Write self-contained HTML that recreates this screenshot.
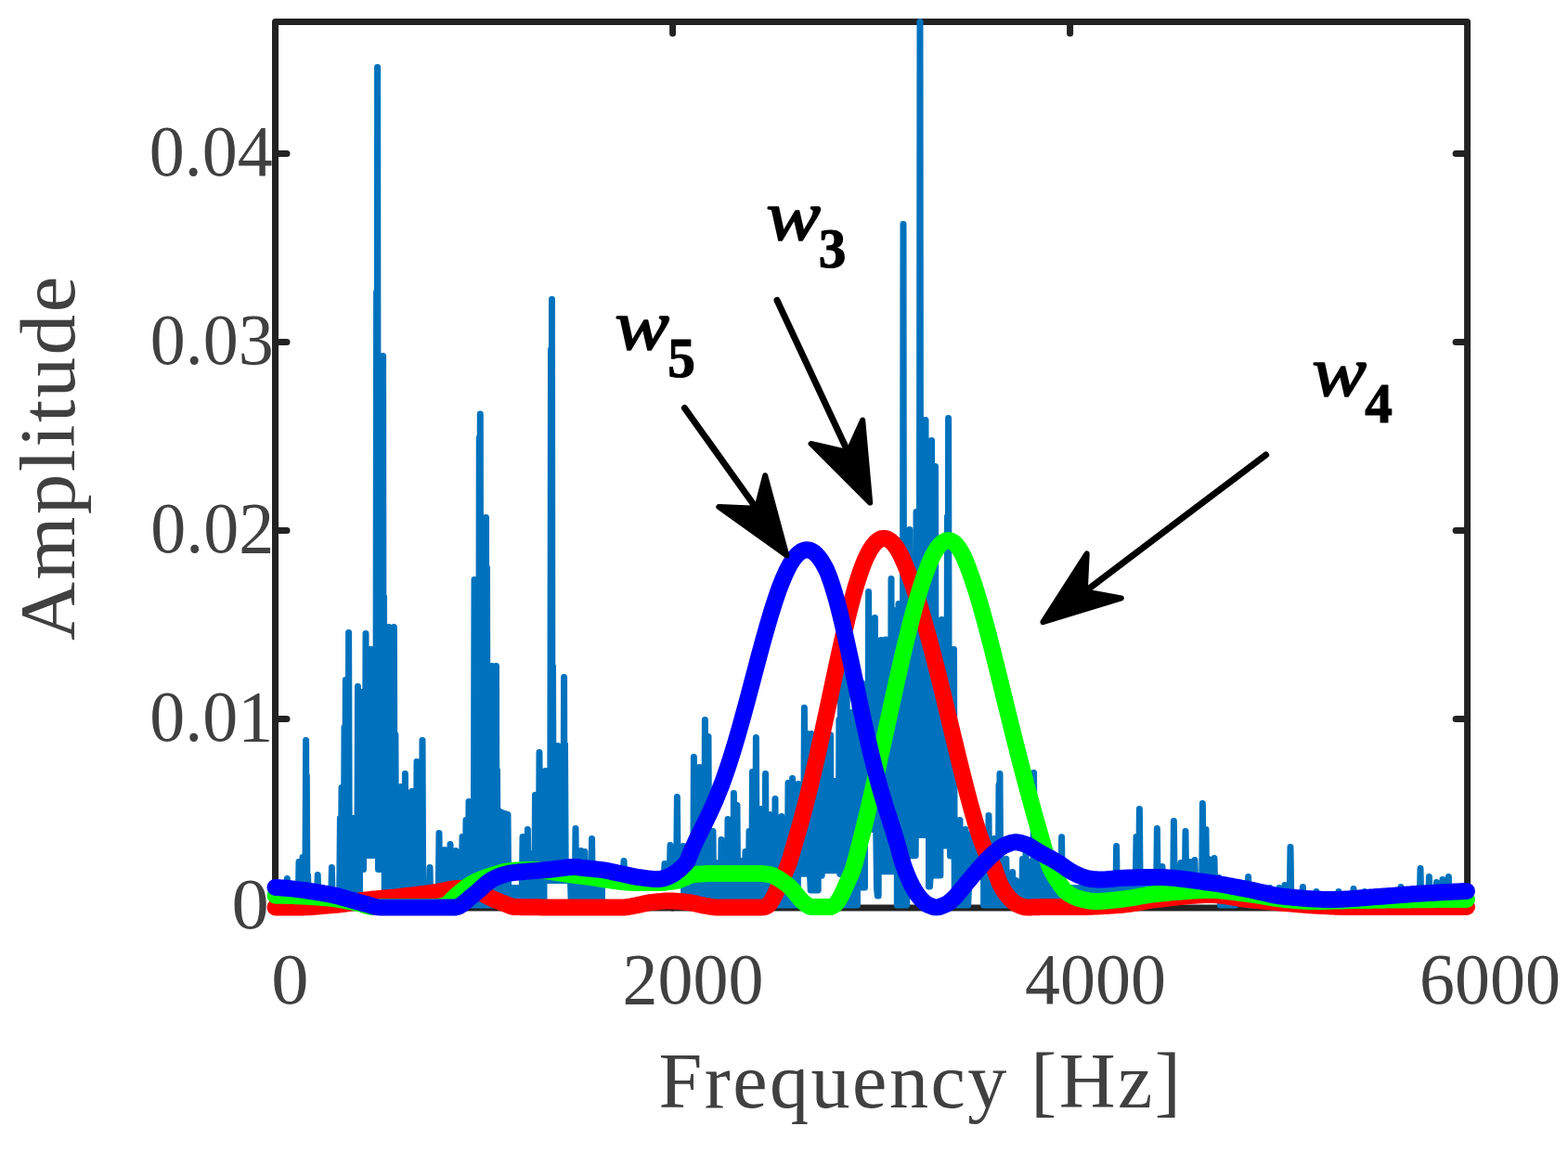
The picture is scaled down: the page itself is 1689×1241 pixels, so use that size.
<!DOCTYPE html>
<html lang="en"><head><meta charset="utf-8"><title>Frequency spectrum</title>
<style>html,body{margin:0;padding:0;background:#fff;}body{width:1689px;height:1241px;overflow:hidden;}svg{display:block;}text{white-space:pre;}</style></head><body>
<svg width="1689" height="1241" viewBox="0 0 1689 1241">
<rect width="1689" height="1241" fill="#fff"/>
<g stroke="#222222" stroke-width="7" fill="none" stroke-linecap="round" stroke-linejoin="round">
<rect x="296.5" y="23.5" width="1284.1" height="954.5"/>
<path d="M296.5,165.4 h12.5 M1580.6,165.4 h-12.5"/>
<path d="M296.5,368.4 h12.5 M1580.6,368.4 h-12.5"/>
<path d="M296.5,571.4 h12.5 M1580.6,571.4 h-12.5"/>
<path d="M296.5,774.4 h12.5 M1580.6,774.4 h-12.5"/>
<path d="M724.6,23.5 v12.5 M724.6,978 v-12.5"/>
<path d="M1152.6,23.5 v12.5 M1152.6,978 v-12.5"/>
</g>
<path d="M296.5,975 L298.7,975 L299.5,959.7 L300.3,975 L301.7,975 L302.5,959.9 L303.3,975 L304.7,975 L305.5,960.1 L306.3,975 L308.6,975 L309.4,946.5 L310.2,975 L310.7,975 L311.5,960.6 L312.3,975 L313.7,975 L314.5,960.9 L315.3,975 L316.7,975 L317.5,961.3 L318.3,975 L319.7,975 L320.5,961.6 L321.2,975 L322,928.5 L322.8,975 L323.5,962 L324.3,975 L325.2,975 L326,923.5 L326.8,975 L328.8,975 L329.6,797.5 L330,975 L330.3,835.5 L331,975 L331.6,942.5 L332.4,975 L334.7,975 L335.5,963.7 L336.3,975 L337.7,975 L338.5,964.2 L339.3,975 L341.4,975 L342.2,942.5 L343,975 L343.7,975 L344.5,965.1 L345.3,975 L346.7,975 L347.5,965.6 L348.3,975 L349.7,975 L350.5,966.1 L351.3,975 L352.7,975 L353.5,966.6 L354.3,975 L356.6,975 L357.4,934.5 L358.2,975 L358.7,975 L359.5,967.9 L360.3,975 L361.7,975 L362.5,968.6 L363.3,975 L365.6,975 L366.4,881.5 L367.2,975 L368,848.5 L368.8,975 L370.2,975 L371,783.5 L371.6,975 L372.3,732.5 L373.1,975 L374.8,975 L375.6,681.5 L376.4,975 L376.7,975 L377.5,972.7 L378.3,975 L379.8,975 L380.6,881.5 L381.4,975 L382.7,975 L383.5,974.5 L384.3,975 L384.7,975 L385.5,739.5 L386.3,975 L387.5,975 L387.5,936.5 L389,936.5 L389.8,745.5 L390.6,936.5 L391.5,936.5 L391.5,921.5 L391.7,921.5 L392.5,921.5 L393.2,921.5 L394,682.5 L394.8,921.5 L395.5,921.5 L396.3,921.5 L398.5,921.5 L398.5,921.5 L398.8,921.5 L399.6,699.5 L400.4,921.5 L400.5,921.5 L400.5,921.5 L400.7,921.5 L401.5,921.5 L402.3,921.5 L404.8,921.5 L405.6,314.5 L406.1,921.5 L406.6,72.5 L407.4,921.5 L407.5,921.5 L407.5,936.5 L409.7,936.5 L410.5,936.5 L411.3,936.5 L411.8,936.5 L412.6,383.5 L413.1,936.5 L413.5,642.5 L414.3,975 L415.7,975 L416.5,970.8 L417.3,975 L418.2,975 L419,675.5 L419.8,975 L421.7,975 L422.5,970.3 L423.3,975 L423.6,975 L424.4,675.5 L425.1,975 L425.9,791.5 L426.7,975 L427.7,975 L428.5,969.7 L429.3,975 L431.2,975 L432,847.5 L432.8,975 L433.7,975 L434.5,969 L435.3,975 L435.6,975 L436.4,833.5 L437.2,975 L439.2,975 L440,854.5 L440.8,975 L442.8,975 L443.6,852.5 L444.4,975 L445.7,975 L446.5,967.6 L447.3,975 L448.2,975 L449,820.5 L449.8,975 L451.7,975 L452.5,966.8 L453.3,975 L454.2,975 L455,797.5 L455.8,975 L457.7,975 L458.5,966.1 L459.3,975 L460.7,975 L461.5,965.7 L462.2,975 L463,934.5 L463.8,975 L464.5,965.3 L465.3,975 L466.7,975 L467.5,964.9 L468.3,975 L469.7,975 L470.5,964.4 L471.3,975 L472.2,975 L473,897.5 L473.8,975 L475.7,975 L476.5,963.3 L477.3,975 L478.2,975 L479,915.5 L479.8,975 L481.7,975 L482.5,962.1 L483.3,975 L484.2,975 L485,909.5 L485.8,975 L487.7,975 L488.5,961 L489.3,975 L490.2,975 L491,916.5 L491.8,975 L493.7,975 L494.5,960.5 L495.3,975 L497.2,975 L498,901.5 L498.8,975 L499.7,975 L500.5,960.8 L501.2,975 L502,883.5 L502.8,975 L503.5,958.6 L504.2,975 L505,863.5 L505.8,975 L506.5,956.5 L507.3,975 L508.7,975 L509.5,956.5 L510.2,975 L511,624.5 L511.8,975 L512.5,956.5 L513.3,975 L515.5,975 L516.3,471.5 L516.8,975 L517.3,446.1 L517.9,975 L518.5,956.5 L519.3,975 L520.7,975 L521.5,956.5 L522.3,975 L522.7,975 L523.5,557.5 L524,975 L524.5,611.5 L525.3,975 L526.7,975 L527.5,956.5 L528.3,975 L529.2,975 L530,717.5 L530.8,975 L533.7,975 L534.5,717.5 L535,975 L535.5,829.5 L536.3,975 L536.7,975 L537.5,873.5 L538.3,975 L538.7,975 L539.5,956.5 L540.2,975 L541,875.5 L541.8,975 L542.5,956.5 L543.2,975 L544,876.5 L544.8,975 L545.5,956.5 L546.2,975 L547,877.5 L547.8,975 L548.5,956.5 L549.3,975 L550.7,975 L551.5,956.5 L552.3,975 L553.7,975 L554.5,956.5 L555.3,975 L556.7,975 L557.5,956.5 L558.3,975 L559.7,975 L560.5,956.5 L561.3,975 L562.2,975 L563,901.5 L563.8,975 L565.7,975 L566.5,956.5 L567.3,975 L567.6,975 L568.4,893.5 L569.2,975 L572.2,975 L573,919.5 L573.8,975 L575.7,975 L576.5,856.5 L577.3,975 L577.7,975 L578.5,956.5 L579.3,975 L580.2,975 L581,810.5 L581.8,975 L583.7,975 L584.5,956.5 L585.3,975 L586,975 L586,948.5 L586.7,948.5 L587.5,830.5 L588.3,948.5 L589.7,948.5 L590.5,948.5 L591.3,948.5 L592.7,948.5 L593.5,376.5 L594,948.5 L594.5,322.5 L595,948.5 L595.5,717.5 L596.3,948.5 L598.5,948.5 L598.5,948.5 L598.7,948.5 L599.5,948.5 L600.2,948.5 L601,803.5 L601.8,948.5 L602.5,948.5 L603.3,948.5 L604.7,948.5 L605.5,948.5 L606.3,948.5 L606.8,948.5 L607.6,729.5 L608,948.5 L608.5,801.5 L609.3,948.5 L610.7,948.5 L611.5,948.5 L612.3,948.5 L613.7,948.5 L614.5,948.5 L615.3,975 L616.7,975 L617.5,956.5 L618.3,975 L619.2,975 L620,892.5 L620.8,975 L622.7,975 L623.5,956.5 L624.3,975 L625.2,975 L626,916.5 L626.8,975 L629.2,975 L630,917.5 L630.8,975 L631.7,975 L632.5,956.5 L633.3,975 L634.7,975 L635.5,956.5 L636.3,975 L636.8,975 L637.6,903.5 L638.4,975 L640.7,975 L641.5,956.5 L642.3,975 L643.7,975 L644.5,956.5 L645.3,975 L646.7,975 L647.5,956.5 L648.3,975 L648.5,975 L648.5,946.5 L649.7,946.5 L650.5,946.5 L651.3,946.5 L652.7,946.5 L653.5,946.5 L654.3,946.5 L655.7,946.5 L656.5,946.5 L657.3,946.5 L658.7,946.5 L659.5,946.5 L660.3,946.5 L661.7,946.5 L662.5,946.5 L663.3,946.5 L664.7,946.5 L665.5,946.5 L666.3,946.5 L667.7,946.5 L668.5,946.5 L669.3,946.5 L670.5,946.5 L670.5,946.5 L671.2,946.5 L672,927.5 L672.8,946.5 L673.7,946.5 L674.5,946.5 L675.3,946.5 L676.7,946.5 L677.5,946.5 L678.3,946.5 L679.7,946.5 L680.5,946.5 L681.3,946.5 L682.7,946.5 L683.5,946.5 L684.3,946.5 L685.7,946.5 L686.5,946.5 L687.3,946.5 L688.7,946.5 L689.5,946.5 L690.3,946.5 L691.7,946.5 L692.5,946.5 L693.3,946.5 L694.7,946.5 L695.5,946.5 L696.3,946.5 L697.7,946.5 L698.5,946.5 L699.3,946.5 L700.7,946.5 L701.5,946.5 L702.3,946.5 L703.7,946.5 L704.5,946.5 L705.3,946.5 L706.7,946.5 L707.5,946.5 L708.3,946.5 L709.7,946.5 L710.5,946.5 L711.3,946.5 L712.7,946.5 L713.5,946.5 L714.3,946.5 L715.2,946.5 L716,930.5 L716.8,946.5 L718.7,946.5 L719.5,946.5 L720.3,946.5 L721.2,946.5 L722,910.5 L722.8,946.5 L724.7,946.5 L725.5,946.5 L726.3,946.5 L728.6,946.5 L729.4,858.5 L730.2,946.5 L730.7,946.5 L731.5,946.5 L732.3,946.5 L733.7,946.5 L734.5,946.5 L735.2,946.5 L736,911.5 L736.8,975 L737.5,956.5 L738.3,975 L739.7,975 L740.5,956.5 L741.3,975 L742.7,975 L743.5,956.5 L744.3,975 L746.6,975 L747.4,815.5 L748.2,975 L748.7,975 L749.5,956.5 L750.3,975 L752.6,975 L753.4,826.5 L754.2,975 L754.7,975 L755.5,956.5 L756.3,975 L758.6,975 L759.4,775.5 L760.2,975 L760.7,975 L761.5,956.5 L762.2,975 L763,793.5 L763.8,975 L764.5,956.5 L765.3,975 L767.2,975 L768,895.5 L768.8,975 L770.5,975 L771.3,929.5 L772.1,975 L772.7,975 L773.5,956.5 L774.3,975 L776.2,975 L777,904.5 L777.8,975 L778.7,975 L779.5,956.5 L780.3,975 L781.7,975 L782.5,956.5 L783.2,975 L784,882.5 L784.8,975 L785.5,956.5 L786.3,975 L787.7,975 L788.5,956.5 L789.3,975 L789.6,975 L790.4,854.5 L791.2,975 L793.2,975 L794,867.5 L794.8,975 L797.2,975 L798,927.5 L798.8,975 L799.7,975 L800.5,956.5 L801.3,975 L802.2,975 L803,917.5 L803.8,975 L806.2,975 L807,895.5 L807.8,975 L809.7,975 L810.5,831.5 L811.3,975 L811.7,975 L812.5,956.5 L813.3,975 L813.6,975 L814.4,794.5 L815.2,975 L818.6,975 L819.4,871.5 L820.2,975 L820.7,975 L821.5,956.5 L822.3,975 L823.8,975 L824.6,833.5 L825.4,975 L826.7,975 L827.5,956.5 L828.2,975 L829,877.5 L829.8,975 L830.5,956.5 L831.3,975 L832.7,975 L833.5,956.5 L834.2,975 L835,860.5 L835.8,975 L836.5,956.5 L837.3,975 L838.7,975 L839.5,956.5 L840.3,975 L841.2,975 L842,879.5 L842.8,975 L844.8,975 L845.6,885.5 L846.4,975 L848.2,975 L849,843.5 L849.8,975 L850.7,975 L851.5,956.5 L852.3,975 L852.8,975 L853.6,838.5 L854.4,975 L856.7,975 L857.5,956.5 L858.3,975 L859.2,975 L860,844.5 L860.8,941.3 L862.7,941.3 L863.5,941.3 L864.3,941.3 L865.6,941.3 L866.4,762.5 L867.2,941.3 L869.2,941.3 L870,790.5 L870.8,941.3 L871.7,941.3 L872.5,941.3 L873.2,958.9 L874,790.5 L874.8,958.9 L875.5,956.5 L876.3,958.9 L877.2,958.9 L878,803.5 L878.8,958.9 L881.2,958.9 L882,809.5 L882.8,943.3 L883.7,943.3 L884.5,943.3 L885.2,943.3 L886,803.5 L886.8,937.8 L887.5,937.8 L888.3,937.8 L889.2,937.8 L890,798.5 L890.8,937.8 L893.3,937.8 L893.3,937.8 L893.7,937.8 L894.5,791.8 L895.3,937.8 L895.7,937.8 L896.5,937.8 L897.3,937.8 L898.4,937.8 L899.2,841.5 L900,937.8 L901.7,937.8 L902.5,937.8 L903.2,937.8 L903.9,775.2 L904.8,941.5 L905.6,728.5 L906.4,941.5 L907.7,941.5 L908.5,718.5 L909.3,941.5 L909.5,941.5 L909.5,975 L911.3,975 L912.1,718.5 L912.9,975 L913.7,975 L914.5,956.5 L915.3,975 L916.7,975 L917.5,767.5 L918.3,975 L920.2,975 L921,748.5 L921.8,975 L923.5,975 L923.5,955.9 L923.7,955.9 L924.5,739.5 L925.3,955.9 L925.7,955.9 L926.5,955.9 L927.4,955.9 L928.3,735.5 L928.9,955.9 L929.5,955.9 L930.3,955.9 L931.5,955.9 L931.5,893.5 L931.7,893.5 L932.5,893.5 L933.3,893.5 L934.8,893.5 L935.6,637.5 L936.4,893.5 L937.7,893.5 L938.5,893.5 L939.3,893.5 L941.6,893.5 L942.4,665.5 L943.2,893.5 L943.7,893.5 L944.5,956.5 L945.3,964.9 L946.2,964.9 L946.2,938.8 L946.7,938.8 L947.5,938.8 L948.2,938.8 L949,689.5 L949.8,938.8 L950.5,938.8 L951.3,938.8 L953.2,938.8 L954,689.1 L954.8,938.8 L955.7,938.8 L956.5,938.8 L957.3,938.8 L959.2,938.8 L960,623.5 L960.8,938.8 L961.7,938.8 L962.5,938.8 L963.3,938.8 L964.2,938.8 L965,657.5 L965.8,938.8 L966.3,938.8 L966.3,975 L967.2,975 L968,650.5 L968.8,975 L970.7,975 L971.5,956.5 L972.2,975 L973,241.5 L973.8,975 L974.5,956.5 L975.3,975 L976.7,975 L977.5,921.7 L978.3,921.7 L979,921.7 L979.8,570.5 L980.6,921.7 L982.7,921.7 L983.5,921.7 L984.3,921.7 L986.2,921.7 L987,551.5 L987.8,899.5 L988.7,899.5 L989.5,899.5 L990.2,899.5 L991,23.5 L991.8,899.5 L992.5,899.5 L993.3,899.5 L994.5,899.5 L994.5,899.5 L994.7,899.5 L995.5,899.5 L996.2,899.5 L997,452.5 L997.8,899.5 L998.5,899.5 L999.3,899.5 L1000.5,899.5 L1000.5,954.9 L1000.7,954.9 L1001.5,954.9 L1002.3,943.1 L1002.7,943.1 L1003.5,474.5 L1004.3,943.1 L1006.7,943.1 L1007.5,502.5 L1008.3,943.1 L1008.5,943.1 L1008.5,943.1 L1009.7,943.1 L1010.5,943.1 L1011.3,943.1 L1012.9,943.1 L1012.9,911 L1013.4,911 L1013.4,911 L1013.7,911 L1014.5,667.5 L1015.3,911 L1015.7,911 L1016.5,911 L1017.3,911 L1019.7,911 L1020.5,556.5 L1021,911 L1021.6,450.5 L1022.4,911 L1023.5,911 L1023.5,922 L1024.7,922 L1025.5,922 L1026.3,922 L1026.7,922 L1027.5,699.5 L1028.3,975 L1030.7,975 L1031.5,956.5 L1032.3,975 L1033.2,975 L1034,883.5 L1034.8,975 L1036.7,975 L1037.5,956.5 L1038.3,975 L1039.2,975 L1040,893.5 L1040.8,975 L1042.7,975 L1043.5,956.5 L1044.3,936.5 L1045.2,936.5 L1046,898.5 L1046.8,936.5 L1048.7,936.5 L1049.5,936.5 L1050.3,936.5 L1051.2,936.5 L1052,893.5 L1052.8,936.5 L1054.7,936.5 L1055.5,936.5 L1056.3,936.5 L1057.2,936.5 L1058,898.5 L1058.8,936.5 L1059.6,936.5 L1059.6,975 L1060.7,975 L1061.5,956.5 L1062.3,975 L1064.2,975 L1065,878.5 L1065.8,975 L1066.7,975 L1067.5,956.5 L1068.3,975 L1070.2,975 L1071,903.5 L1071.8,975 L1072.7,975 L1073.5,956.5 L1074.3,975 L1075.2,975 L1076,845.5 L1076.5,975 L1077,833.5 L1077.8,975 L1078.7,975 L1079.5,956.5 L1080.3,975 L1081.7,975 L1082.5,956.5 L1083.2,975 L1083.8,925.3 L1084.7,975 L1085.5,956.5 L1086.3,975 L1087.7,975 L1088.5,956.5 L1089.3,975 L1089.9,975 L1090.7,939.5 L1091.5,975 L1093.5,975 L1094.3,948.5 L1095.1,975 L1096.7,975 L1097.5,956.5 L1098.3,975 L1100.7,975 L1101.5,925.5 L1102.3,975 L1102.7,975 L1103.5,956.5 L1104.2,975 L1105,918.5 L1105.8,975 L1106.5,956.5 L1107.3,975 L1108.2,975 L1109,928.5 L1109.8,975 L1112.8,975 L1113.6,832.5 L1114.4,975 L1114.7,975 L1115.5,956.5 L1116.3,975 L1116.7,975 L1117.5,928.5 L1118.3,975 L1120.7,975 L1121.5,933.5 L1122.3,975 L1124.7,975 L1125.5,938.5 L1126.3,975 L1126.7,975 L1127.5,956.5 L1128.3,975 L1128.7,975 L1129.5,943.5 L1130.3,975 L1132.7,975 L1133.5,948.5 L1134.3,975 L1136.7,975 L1137.5,951.5 L1138.3,975 L1138.7,975 L1139.5,956.5 L1140.2,975 L1141,948.5 L1141.8,975 L1142.8,975 L1143.6,901.7 L1144.4,975 L1144.7,975 L1145.5,956.5 L1146.3,975 L1147.7,975 L1148.5,956.5 L1149.3,975 L1150.7,975 L1151.5,956.5 L1152.3,975 L1153.7,975 L1154.5,956.5 L1155.3,975 L1156.7,975 L1157.5,956.5 L1158.3,975 L1159.7,975 L1160.5,956.5 L1161.3,975 L1162.7,975 L1163.5,956.5 L1164.3,975 L1165.7,975 L1166.5,956.5 L1167.3,975 L1168.7,975 L1169.5,956.5 L1170.3,975 L1171.7,975 L1172.5,956.5 L1173.3,975 L1174.7,975 L1175.5,956.5 L1176.3,975 L1177.7,975 L1178.5,956.5 L1179.3,975 L1180.7,975 L1181.5,956.5 L1182.3,975 L1183.7,975 L1184.5,956.5 L1185.3,975 L1186.7,975 L1187.5,956.5 L1188.3,975 L1189.7,975 L1190.5,956.5 L1191.3,975 L1192.7,975 L1193.5,956.5 L1194.3,975 L1195.7,975 L1196.5,956.5 L1197.3,975 L1198.7,975 L1199.5,956.5 L1200.3,975 L1201.8,975 L1202.6,911.5 L1203.4,975 L1204.7,975 L1205.5,956.5 L1206.3,975 L1207.7,975 L1208.5,956.5 L1209.3,975 L1210.7,975 L1211.5,956.5 L1212.3,975 L1212.5,975 L1212.5,962.5 L1213.7,962.5 L1214.5,956.5 L1215.3,962.5 L1216.7,962.5 L1217.5,956.5 L1218.3,962.5 L1219.7,962.5 L1220.5,956.5 L1221.3,962.5 L1223.2,962.5 L1224,901.5 L1224.8,962.5 L1226.6,962.5 L1227.4,871.5 L1228.2,962.5 L1228.7,962.5 L1229.5,956.5 L1230.3,962.5 L1231.7,962.5 L1232.5,956.5 L1233.3,962.5 L1234.7,962.5 L1235.5,956.5 L1236.3,962.5 L1237.7,962.5 L1238.5,956.5 L1239.3,962.5 L1239.5,962.5 L1239.5,962.5 L1240.7,962.5 L1241.5,956.5 L1242.3,962.5 L1243.7,962.5 L1244.5,956.5 L1245.3,962.5 L1245.6,962.5 L1246.4,892.5 L1247.2,962.5 L1249.7,962.5 L1250.5,956.5 L1251.2,962.5 L1252,933.5 L1252.8,962.5 L1253.5,956.5 L1254.3,962.5 L1255.7,962.5 L1256.5,956.5 L1257.3,962.5 L1258.7,962.5 L1259.5,956.5 L1260.3,962.5 L1261.7,962.5 L1262.5,956.5 L1263.3,962.5 L1263.6,962.5 L1264.4,884.5 L1265.2,962.5 L1267.7,962.5 L1268.5,956.5 L1269.3,962.5 L1269.5,962.5 L1269.5,962.5 L1271.2,962.5 L1272,929.5 L1272.8,962.5 L1273.7,962.5 L1274.5,956.5 L1275.3,962.5 L1276.2,962.5 L1277,895.5 L1277.8,962.5 L1279.5,962.5 L1279.5,962.5 L1279.7,962.5 L1280.5,956.5 L1281.2,962.5 L1282,928.5 L1282.8,962.5 L1283.5,956.5 L1284.3,962.5 L1286.2,962.5 L1287,926.5 L1287.8,962.5 L1288.7,962.5 L1289.5,956.5 L1290.3,962.5 L1291.7,962.5 L1292.5,956.5 L1293.3,962.5 L1294.6,962.5 L1295.4,865.5 L1296.2,962.5 L1296.5,962.5 L1296.5,962.5 L1297.5,962.5 L1297.5,963.5 L1298.2,963.5 L1299,893.5 L1299.8,963.5 L1301.2,963.5 L1302,925.5 L1302.8,963.5 L1303.7,963.5 L1304.5,956.5 L1305.3,963.5 L1307.2,963.5 L1308,924.5 L1308.8,963.5 L1309.7,963.5 L1310.5,956.5 L1311.3,963.5 L1312.2,963.5 L1313,945.5 L1313.8,963.5 L1314.5,963.5 L1314.5,975 L1315.7,975 L1316.5,956.5 L1317.3,975 L1318.7,975 L1319.5,956.9 L1320.3,975 L1321.7,975 L1322.5,957.5 L1323.3,975 L1324.7,975 L1325.5,958 L1326.3,975 L1327.7,975 L1328.5,958.6 L1329.3,975 L1330.7,975 L1331.5,959.1 L1332.3,964.5 L1333.7,964.5 L1334.5,959.7 L1335.3,964.5 L1336.7,964.5 L1337.5,960.3 L1338.3,964.5 L1339.7,964.5 L1340.5,960.8 L1341.3,964.5 L1343.8,964.5 L1344.6,944.5 L1345.4,975 L1345.7,975 L1346.5,962 L1347.3,975 L1348.7,975 L1349.5,962.6 L1350.3,966.5 L1351.7,966.5 L1352.5,963.3 L1353.3,966.5 L1354.7,966.5 L1355.5,964 L1356.3,966.5 L1357.7,966.5 L1358.5,964.7 L1359.3,966.5 L1360.7,966.5 L1361.5,965.4 L1362.3,966.5 L1363.7,966.5 L1364.5,966.1 L1365.3,966.5 L1367.2,966.5 L1368,956.5 L1368.8,966.5 L1369.7,966.5 L1370.5,966.5 L1371.3,966.5 L1372.7,966.5 L1373.5,966.5 L1374.3,966.5 L1375.7,966.5 L1376.5,966.5 L1377.2,966.5 L1378,956.5 L1378.8,966.5 L1379.5,966.5 L1380.3,966.5 L1381.7,966.5 L1382.5,966.5 L1383.2,966.5 L1384,953.5 L1384.8,966.5 L1385.5,966.5 L1386.3,966.5 L1387.7,966.5 L1388.5,966.5 L1389.2,966.5 L1390,912.5 L1390.8,966.5 L1391.5,966.5 L1392.3,966.5 L1393.7,966.5 L1394.5,966.5 L1395.3,966.5 L1396.7,966.5 L1397.5,966.5 L1398.3,966.5 L1399.7,966.5 L1400.5,966.5 L1401.3,966.5 L1402.6,966.5 L1403.4,955.5 L1404.2,975 L1405.7,975 L1406.5,971.4 L1407.3,975 L1408.7,975 L1409.5,971.6 L1410.3,975 L1411.7,975 L1412.5,971.8 L1413.3,975 L1414.7,975 L1415.5,972 L1416.3,975 L1417.2,975 L1418,960.5 L1418.8,975 L1420.7,975 L1421.5,972.3 L1422.3,975 L1423.7,975 L1424.5,972.4 L1425.3,975 L1426.7,975 L1427.5,972.4 L1428.3,975 L1429.7,975 L1430.5,972.5 L1431.3,975 L1432.7,975 L1433.5,972.5 L1434.3,975 L1435.7,975 L1436.5,972.5 L1437.3,975 L1438.7,975 L1439.5,972.4 L1440.3,975 L1441.2,975 L1442,960.5 L1442.8,975 L1444.7,975 L1445.5,972.2 L1446.3,975 L1447.7,975 L1448.5,972.1 L1449.3,975 L1450.7,975 L1451.5,971.9 L1452.3,975 L1453.7,975 L1454.5,971.7 L1455.3,975 L1457.2,975 L1458,957.5 L1458.8,975 L1459.7,975 L1460.5,971.3 L1461.3,975 L1462.7,975 L1463.5,971.1 L1464.3,975 L1465.7,975 L1466.5,970.8 L1467.3,975 L1469.2,975 L1470,960.5 L1470.8,975 L1471.7,975 L1472.5,970.4 L1473.3,975 L1474.7,975 L1475.5,970.1 L1476.3,975 L1477.7,975 L1478.5,969.9 L1479.3,975 L1480.7,975 L1481.5,969.7 L1482.3,975 L1483.7,975 L1484.5,969.5 L1485.3,975 L1486.7,975 L1487.5,969.3 L1488.3,975 L1489.7,975 L1490.5,969 L1491.3,975 L1492.7,975 L1493.5,968.8 L1494.3,975 L1495.7,975 L1496.5,968.6 L1497.3,975 L1498.7,975 L1499.5,968.3 L1500.3,975 L1501.7,975 L1502.5,968.1 L1503.3,975 L1504.7,975 L1505.5,967.9 L1506.3,975 L1508.2,975 L1509,955.5 L1509.8,975 L1510.7,975 L1511.5,967.4 L1512.3,975 L1513.7,975 L1514.5,967.2 L1515.3,975 L1516.7,975 L1517.5,966.9 L1518.3,975 L1519.7,975 L1520.5,966.7 L1521.3,975 L1522.7,975 L1523.5,966.5 L1524.3,975 L1525.7,975 L1526.5,966.3 L1527.3,975 L1529.2,975 L1530,935.5 L1530.8,975 L1531.7,975 L1532.5,966 L1533.3,975 L1534.7,975 L1535.5,965.8 L1536.3,975 L1538.6,975 L1539.4,944.5 L1540.2,975 L1540.7,975 L1541.5,965.4 L1542.3,975 L1543.7,975 L1544.5,965.3 L1545.3,975 L1546.6,975 L1547.4,950.5 L1548.2,975 L1549.7,975 L1550.5,964.9 L1551.3,975 L1553.2,975 L1554,947.5 L1554.8,975 L1555.7,975 L1556.5,964.6 L1557.3,975 L1559.6,975 L1560.4,944.5 L1561.2,975 L1561.7,975 L1562.5,964.3 L1563.3,975 L1564.7,975 L1565.5,964.2 L1566.3,975 L1567.7,975 L1568.5,964 L1569.3,975 L1570.7,975 L1571.5,963.9 L1572.3,975 L1573.7,975 L1574.5,963.7 L1575.3,975 L1576.7,975 L1577.5,963.6 L1578.3,975 L1580.6,975" fill="none" stroke="#0072BD" stroke-width="7" stroke-linejoin="round" stroke-linecap="round"/>
<path d="M296.5,977.4 L298.5,977.4 L300.5,977.4 L302.5,977.4 L304.5,977.4 L306.5,977.4 L308.5,977.4 L310.5,977.4 L312.5,977.4 L314.5,977.4 L316.5,977.4 L318.5,977.4 L320.5,977.4 L322.5,977.4 L324.5,977.4 L326.5,977.4 L328.5,977.3 L330.5,977.3 L332.5,977.2 L334.5,977.1 L336.5,976.9 L338.5,976.8 L340.5,976.6 L342.5,976.4 L344.5,976.3 L346.5,976.1 L348.5,975.9 L350.5,975.7 L352.5,975.6 L354.5,975.4 L356.5,975.2 L358.5,975.1 L360.5,974.9 L362.5,974.7 L364.5,974.5 L366.5,974.3 L368.5,974 L370.5,973.8 L372.5,973.5 L374.5,973.2 L376.5,972.8 L378.5,972.4 L380.5,971.9 L382.5,971.5 L384.5,971 L386.5,970.6 L388.5,970.2 L390.5,969.9 L392.5,969.7 L394.5,969.4 L396.5,969.2 L398.5,969 L400.5,968.7 L402.5,968.5 L404.5,968.4 L406.5,968.2 L408.5,968 L410.5,967.8 L412.5,967.6 L414.5,967.5 L416.5,967.3 L418.5,967.1 L420.5,966.9 L422.5,966.8 L424.5,966.6 L426.5,966.4 L428.5,966.2 L430.5,965.9 L432.5,965.7 L434.5,965.5 L436.5,965.3 L438.5,965 L440.5,964.8 L442.5,964.6 L444.5,964.3 L446.5,964.1 L448.5,963.8 L450.5,963.6 L452.5,963.3 L454.5,963.1 L456.5,962.8 L458.5,962.6 L460.5,962.3 L462.5,962 L464.5,961.8 L466.5,961.5 L468.5,961.2 L470.5,960.9 L472.5,960.6 L474.5,960.2 L476.5,959.8 L478.5,959.4 L480.5,959 L482.5,958.6 L484.5,958.2 L486.5,957.8 L488.5,957.5 L490.5,957.2 L492.5,957.1 L494.5,957 L496.5,957 L498.5,957.2 L500.5,957.4 L502.5,957.8 L504.5,958.2 L506.5,958.6 L508.5,959.2 L510.5,959.7 L512.5,960.3 L514.5,960.9 L516.5,961.5 L518.5,962.3 L520.5,963.2 L522.5,964.2 L524.5,965.3 L526.5,966.3 L528.5,967.3 L530.5,968.2 L532.5,969.1 L534.5,969.9 L536.5,970.7 L538.5,971.5 L540.5,972.3 L542.5,973.1 L544.5,973.8 L546.5,974.6 L548.5,975.5 L550.5,976.3 L552.5,976.8 L554.5,977 L556.5,977.1 L558.5,977.1 L560.5,977.1 L562.5,977.2 L564.5,977.2 L566.5,977.2 L568.5,977.2 L570.5,977.3 L572.5,977.3 L574.5,977.3 L576.5,977.3 L578.5,977.3 L580.5,977.3 L582.5,977.4 L584.5,977.4 L586.5,977.4 L588.5,977.4 L590.5,977.4 L592.5,977.4 L594.5,977.4 L596.5,977.4 L598.5,977.4 L600.5,977.4 L602.5,977.4 L604.5,977.4 L606.5,977.4 L608.5,977.4 L610.5,977.4 L612.5,977.4 L614.5,977.4 L616.5,977.4 L618.5,977.4 L620.5,977.4 L622.5,977.4 L624.5,977.4 L626.5,977.4 L628.5,977.4 L630.5,977.4 L632.5,977.4 L634.5,977.4 L636.5,977.4 L638.5,977.4 L640.5,977.4 L642.5,977.4 L644.5,977.4 L646.5,977.4 L648.5,977.4 L650.5,977.4 L652.5,977.4 L654.5,977.4 L656.5,977.4 L658.5,977.4 L660.5,977.4 L662.5,977.4 L664.5,977.4 L666.5,977.4 L668.5,977.4 L670.5,977.4 L672.5,977.4 L674.5,977.3 L676.5,977 L678.5,976.6 L680.5,976.3 L682.5,975.9 L684.5,975.5 L686.5,975.1 L688.5,974.7 L690.5,974.2 L692.5,973.8 L694.5,973.3 L696.5,972.9 L698.5,972.5 L700.5,972.2 L702.5,971.9 L704.5,971.7 L706.5,971.5 L708.5,971.3 L710.5,971.1 L712.5,970.9 L714.5,970.7 L716.5,970.6 L718.5,970.5 L720.5,970.5 L722.5,970.5 L724.5,970.6 L726.5,970.7 L728.5,970.8 L730.5,970.9 L732.5,971.1 L734.5,971.3 L736.5,971.5 L738.5,971.7 L740.5,971.9 L742.5,972.2 L744.5,972.5 L746.5,972.9 L748.5,973.3 L750.5,973.8 L752.5,974.2 L754.5,974.7 L756.5,975.2 L758.5,975.6 L760.5,975.9 L762.5,976.2 L764.5,976.6 L766.5,976.9 L768.5,977.2 L770.5,977.4 L772.5,977.4 L774.5,977.4 L776.5,977.4 L778.5,977.4 L780.5,977.4 L782.5,977.4 L784.5,977.4 L786.5,977.4 L788.5,977.4 L790.5,977.4 L792.5,977.4 L794.5,977.4 L796.5,977.4 L798.5,977.4 L800.5,977.4 L802.5,977.4 L804.5,977.4 L806.5,977.4 L808.5,977.4 L810.5,977.4 L812.5,977.4 L814.5,977.4 L816.5,977.4 L818.5,977.4 L820.5,977.4 L822.5,977.2 L824.5,976.7 L826.5,975.8 L828.5,974.2 L830.5,971.3 L832.5,967.9 L834.5,964.2 L836.5,959.9 L838.5,955.3 L840.5,950.8 L842.5,946.5 L844.5,942.3 L846.5,937.8 L848.5,932.9 L850.5,927.5 L852.5,920.7 L854.5,913.8 L856.5,907 L858.5,900.1 L860.5,893.1 L862.5,885.9 L864.5,878.6 L866.5,871.1 L868.5,863.4 L870.5,855.5 L872.5,847.5 L874.5,839.2 L876.5,830.8 L878.5,822.2 L880.5,813.4 L882.5,804.5 L884.5,795.4 L886.5,786.3 L888.5,777 L890.5,767.6 L892.5,758.2 L894.5,748.8 L896.5,739.3 L898.5,729.9 L900.5,720.6 L902.5,711.3 L904.5,702.2 L906.5,693.1 L908.5,684.3 L910.5,675.7 L912.5,667.2 L914.5,659.1 L916.5,651.2 L918.5,643.7 L920.5,636.5 L922.5,629.6 L924.5,623.2 L926.5,617.1 L928.5,611.5 L930.5,606.3 L932.5,601.6 L934.5,597.5 L936.5,593.7 L938.5,590.4 L940.5,587.6 L942.5,585.2 L944.5,583.2 L946.5,581.7 L948.5,580.6 L950.5,580.1 L952.5,579.9 L954.5,580.2 L956.5,580.9 L958.5,582.1 L960.5,583.7 L962.5,585.8 L964.5,588.3 L966.5,591.3 L968.5,594.7 L970.5,598.6 L972.5,602.9 L974.5,607.5 L976.5,612.3 L978.5,617.3 L980.5,622.5 L982.5,628 L984.5,633.8 L986.5,639.8 L988.5,646.1 L990.5,652.5 L992.5,659.2 L994.5,666 L996.5,673.1 L998.5,680.3 L1000.5,687.6 L1002.5,695.1 L1004.5,702.7 L1006.5,710.5 L1008.5,718.3 L1010.5,726.3 L1012.5,734.3 L1014.5,742.5 L1016.5,750.7 L1018.5,758.9 L1020.5,767.2 L1022.5,775.5 L1024.5,783.8 L1026.5,792.1 L1028.5,800.4 L1030.5,808.7 L1032.5,816.9 L1034.5,825 L1036.5,833.1 L1038.5,841 L1040.5,848.8 L1042.5,856.5 L1044.5,864 L1046.5,871.3 L1048.5,878.3 L1050.5,885.2 L1052.5,891.7 L1054.5,898 L1056.5,903.9 L1058.5,909.4 L1060.5,914.6 L1062.5,919.3 L1064.5,923.5 L1066.5,927.2 L1068.5,930.2 L1070.5,934.2 L1072.5,939.6 L1074.5,945.4 L1076.5,950.7 L1078.5,954.7 L1080.5,958.2 L1082.5,961.4 L1084.5,964.1 L1086.5,966.5 L1088.5,968.7 L1090.5,970.7 L1092.5,972.4 L1094.5,973.6 L1096.5,974.6 L1098.5,975.5 L1100.5,976.3 L1102.5,976.9 L1104.5,977.3 L1106.5,977.4 L1108.5,977.4 L1110.5,977.4 L1112.5,977.3 L1114.5,977.3 L1116.5,977.2 L1118.5,977.2 L1120.5,977.1 L1122.5,977.1 L1124.5,977.1 L1126.5,977 L1128.5,977 L1130.5,977 L1132.5,977 L1134.5,977 L1136.5,977 L1138.5,977 L1140.5,977 L1142.5,977 L1144.5,977 L1146.5,977 L1148.5,977 L1150.5,977 L1152.5,977 L1154.5,977 L1156.5,977 L1158.5,977 L1160.5,977 L1162.5,977 L1164.5,977 L1166.5,976.9 L1168.5,976.9 L1170.5,976.9 L1172.5,976.8 L1174.5,976.7 L1176.5,976.7 L1178.5,976.6 L1180.5,976.5 L1182.5,976.4 L1184.5,976.3 L1186.5,976.2 L1188.5,976.1 L1190.5,976 L1192.5,975.9 L1194.5,975.8 L1196.5,975.6 L1198.5,975.5 L1200.5,975.4 L1202.5,975.2 L1204.5,975.1 L1206.5,975 L1208.5,974.8 L1210.5,974.6 L1212.5,974.4 L1214.5,974.1 L1216.5,973.8 L1218.5,973.5 L1220.5,973.2 L1222.5,972.8 L1224.5,972.5 L1226.5,972.1 L1228.5,971.8 L1230.5,971.4 L1232.5,971 L1234.5,970.7 L1236.5,970.4 L1238.5,970 L1240.5,969.7 L1242.5,969.4 L1244.5,969.2 L1246.5,968.9 L1248.5,968.7 L1250.5,968.5 L1252.5,968.3 L1254.5,968 L1256.5,967.8 L1258.5,967.5 L1260.5,967.3 L1262.5,967.1 L1264.5,966.8 L1266.5,966.6 L1268.5,966.4 L1270.5,966.2 L1272.5,966 L1274.5,965.7 L1276.5,965.5 L1278.5,965.4 L1280.5,965.2 L1282.5,965 L1284.5,964.8 L1286.5,964.7 L1288.5,964.5 L1290.5,964.4 L1292.5,964.3 L1294.5,964.2 L1296.5,964.1 L1298.5,964.1 L1300.5,964 L1302.5,964 L1304.5,964 L1306.5,964 L1308.5,964.1 L1310.5,964.3 L1312.5,964.4 L1314.5,964.6 L1316.5,964.9 L1318.5,965.1 L1320.5,965.4 L1322.5,965.7 L1324.5,966 L1326.5,966.4 L1328.5,966.7 L1330.5,967 L1332.5,967.3 L1334.5,967.7 L1336.5,968 L1338.5,968.3 L1340.5,968.6 L1342.5,968.8 L1344.5,969.1 L1346.5,969.3 L1348.5,969.5 L1350.5,969.7 L1352.5,969.9 L1354.5,970.1 L1356.5,970.4 L1358.5,970.6 L1360.5,970.8 L1362.5,971 L1364.5,971.2 L1366.5,971.4 L1368.5,971.6 L1370.5,971.8 L1372.5,972 L1374.5,972.1 L1376.5,972.3 L1378.5,972.5 L1380.5,972.7 L1382.5,972.9 L1384.5,973 L1386.5,973.2 L1388.5,973.4 L1390.5,973.6 L1392.5,973.7 L1394.5,973.9 L1396.5,974.1 L1398.5,974.3 L1400.5,974.4 L1402.5,974.6 L1404.5,974.7 L1406.5,974.9 L1408.5,975 L1410.5,975.2 L1412.5,975.3 L1414.5,975.5 L1416.5,975.6 L1418.5,975.7 L1420.5,975.8 L1422.5,975.9 L1424.5,976 L1426.5,976.1 L1428.5,976.2 L1430.5,976.3 L1432.5,976.4 L1434.5,976.5 L1436.5,976.6 L1438.5,976.7 L1440.5,976.7 L1442.5,976.8 L1444.5,976.9 L1446.5,976.9 L1448.5,976.9 L1450.5,977 L1452.5,977 L1454.5,977 L1456.5,977 L1458.5,977 L1460.5,977 L1462.5,977 L1464.5,977 L1466.5,977 L1468.5,977 L1470.5,977 L1472.5,977 L1474.5,977 L1476.5,977 L1478.5,977 L1480.5,977 L1482.5,977 L1484.5,977 L1486.5,977 L1488.5,977 L1490.5,977 L1492.5,977 L1494.5,977 L1496.5,977 L1498.5,977 L1500.5,977 L1502.5,977 L1504.5,977 L1506.5,977 L1508.5,977 L1510.5,977 L1512.5,977 L1514.5,977 L1516.5,977 L1518.5,977 L1520.5,977 L1522.5,977 L1524.5,977 L1526.5,977 L1528.5,977 L1530.5,977 L1532.5,977 L1534.5,977 L1536.5,977 L1538.5,977 L1540.5,977 L1542.5,977 L1544.5,977 L1546.5,977 L1548.5,977 L1550.5,977 L1552.5,977 L1554.5,977 L1556.5,977 L1558.5,977 L1560.5,977 L1562.5,977 L1564.5,977 L1566.5,977 L1568.5,977 L1570.5,977 L1572.5,977 L1574.5,977 L1576.5,977 L1578.5,977 L1580,977" fill="none" stroke="#FF0000" stroke-width="18" stroke-linejoin="round" stroke-linecap="round"/>
<path d="M296.5,964.7 L298.5,964.7 L300.5,964.7 L302.5,964.7 L304.5,964.8 L306.5,964.8 L308.5,964.9 L310.5,964.9 L312.5,965 L314.5,965 L316.5,965.1 L318.5,965.2 L320.5,965.3 L322.5,965.4 L324.5,965.5 L326.5,965.6 L328.5,965.7 L330.5,965.8 L332.5,965.9 L334.5,966.1 L336.5,966.2 L338.5,966.3 L340.5,966.4 L342.5,966.6 L344.5,966.7 L346.5,966.9 L348.5,967 L350.5,967.2 L352.5,967.3 L354.5,967.5 L356.5,967.7 L358.5,968 L360.5,968.2 L362.5,968.5 L364.5,968.9 L366.5,969.2 L368.5,969.5 L370.5,969.9 L372.5,970.3 L374.5,970.7 L376.5,971.1 L378.5,971.5 L380.5,971.9 L382.5,972.3 L384.5,972.7 L386.5,973.1 L388.5,973.6 L390.5,974.2 L392.5,974.9 L394.5,975.6 L396.5,976.2 L398.5,976.6 L400.5,976.9 L402.5,977 L404.5,977 L406.5,977 L408.5,977 L410.5,977 L412.5,977 L414.5,977 L416.5,977 L418.5,977 L420.5,977 L422.5,977 L424.5,977 L426.5,977 L428.5,977 L430.5,977 L432.5,977 L434.5,977 L436.5,977 L438.5,977 L440.5,977 L442.5,977 L444.5,977 L446.5,977 L448.5,977 L450.5,977 L452.5,977 L454.5,977 L456.5,977 L458.5,977 L460.5,977 L462.5,977 L464.5,977 L466.5,977 L468.5,977 L470.5,977 L472.5,976.8 L474.5,976.5 L476.5,976 L478.5,975.5 L480.5,974.8 L482.5,973.5 L484.5,971.6 L486.5,969.5 L488.5,967.4 L490.5,965.6 L492.5,963.9 L494.5,962.2 L496.5,960.6 L498.5,958.9 L500.5,957.3 L502.5,955.8 L504.5,954.4 L506.5,953 L508.5,951.8 L510.5,950.7 L512.5,949.7 L514.5,948.8 L516.5,947.9 L518.5,947.1 L520.5,946.3 L522.5,945.5 L524.5,944.8 L526.5,944.1 L528.5,943.5 L530.5,942.8 L532.5,942.2 L534.5,941.6 L536.5,941 L538.5,940.4 L540.5,939.8 L542.5,939.3 L544.5,938.8 L546.5,938.4 L548.5,938.2 L550.5,938 L552.5,937.8 L554.5,937.6 L556.5,937.5 L558.5,937.4 L560.5,937.3 L562.5,937.2 L564.5,937.1 L566.5,937 L568.5,937 L570.5,937 L572.5,937 L574.5,937.1 L576.5,937.2 L578.5,937.3 L580.5,937.5 L582.5,937.6 L584.5,937.9 L586.5,938.1 L588.5,938.3 L590.5,938.6 L592.5,938.9 L594.5,939.2 L596.5,939.5 L598.5,939.8 L600.5,940.1 L602.5,940.4 L604.5,940.7 L606.5,941 L608.5,941.4 L610.5,941.7 L612.5,942 L614.5,942.3 L616.5,942.5 L618.5,942.8 L620.5,943.1 L622.5,943.3 L624.5,943.6 L626.5,943.8 L628.5,944.1 L630.5,944.3 L632.5,944.6 L634.5,944.9 L636.5,945.1 L638.5,945.4 L640.5,945.7 L642.5,946 L644.5,946.4 L646.5,946.7 L648.5,947 L650.5,947.3 L652.5,947.6 L654.5,947.9 L656.5,948.2 L658.5,948.5 L660.5,948.8 L662.5,949 L664.5,949.3 L666.5,949.5 L668.5,949.8 L670.5,950 L672.5,950.2 L674.5,950.4 L676.5,950.5 L678.5,950.7 L680.5,950.8 L682.5,950.9 L684.5,951 L686.5,951 L688.5,951 L690.5,951 L692.5,951 L694.5,951 L696.5,951 L698.5,951 L700.5,951 L702.5,951 L704.5,951 L706.5,951 L708.5,951 L710.5,951 L712.5,950.9 L714.5,950.7 L716.5,950.5 L718.5,950.3 L720.5,950.1 L722.5,949.8 L724.5,949.5 L726.5,949.2 L728.5,948.9 L730.5,948.4 L732.5,947.7 L734.5,946.9 L736.5,946 L738.5,945.1 L740.5,944.2 L742.5,943.4 L744.5,942.7 L746.5,942.2 L748.5,942 L750.5,941.8 L752.5,941.6 L754.5,941.5 L756.5,941.4 L758.5,941.3 L760.5,941.2 L762.5,941.1 L764.5,941 L766.5,941 L768.5,941 L770.5,941 L772.5,941 L774.5,941 L776.5,941 L778.5,941 L780.5,941 L782.5,941 L784.5,941 L786.5,941 L788.5,941 L790.5,941 L792.5,941 L794.5,941 L796.5,941 L798.5,941 L800.5,941 L802.5,941 L804.5,941 L806.5,941 L808.5,941 L810.5,941 L812.5,941 L814.5,941 L816.5,941 L818.5,941 L820.5,941.1 L822.5,941.3 L824.5,941.5 L826.5,941.8 L828.5,942.1 L830.5,942.6 L832.5,943.3 L834.5,944.2 L836.5,945.2 L838.5,946.4 L840.5,947.7 L842.5,949 L844.5,950.5 L846.5,951.9 L848.5,953.4 L850.5,955.1 L852.5,957.2 L854.5,959.4 L856.5,961.9 L858.5,964.3 L860.5,966.8 L862.5,969.1 L864.5,971.1 L866.5,972.9 L868.5,974.3 L870.5,975.7 L872.5,976.7 L874.5,977 L876.5,977 L878.5,977 L880.5,977 L882.5,977 L884.5,977 L886.5,977 L888.5,977 L890.5,977 L892.5,977 L894.5,977 L896.5,976.3 L898.5,975.1 L900.5,973.6 L902.5,971.1 L904.5,967.7 L906.5,964.1 L908.5,960 L910.5,955.4 L912.5,950.9 L914.5,946.5 L916.5,942 L918.5,937 L920.5,930.7 L922.5,923 L924.5,915.4 L926.5,907.6 L928.5,899.7 L930.5,891.6 L932.5,883.4 L934.5,875 L936.5,866.5 L938.5,857.9 L940.5,849.2 L942.5,840.4 L944.5,831.5 L946.5,822.5 L948.5,813.4 L950.5,804.3 L952.5,795.2 L954.5,786 L956.5,776.9 L958.5,767.7 L960.5,758.6 L962.5,749.5 L964.5,740.5 L966.5,731.5 L968.5,722.7 L970.5,713.9 L972.5,705.3 L974.5,696.8 L976.5,688.5 L978.5,680.4 L980.5,672.5 L982.5,664.8 L984.5,657.3 L986.5,650.1 L988.5,643.2 L990.5,636.5 L992.5,630.2 L994.5,624.2 L996.5,618.5 L998.5,613.2 L1000.5,608.1 L1002.5,603.4 L1004.5,599.2 L1006.5,595.4 L1008.5,592.1 L1010.5,589.3 L1012.5,587 L1014.5,585.1 L1016.5,583.7 L1018.5,582.7 L1020.5,582.3 L1022.5,582.3 L1024.5,582.8 L1026.5,583.8 L1028.5,585.3 L1030.5,587.4 L1032.5,590 L1034.5,593.1 L1036.5,596.7 L1038.5,600.8 L1040.5,605.4 L1042.5,610.6 L1044.5,615.9 L1046.5,621.5 L1048.5,627.3 L1050.5,633.5 L1052.5,639.9 L1054.5,646.5 L1056.5,653.4 L1058.5,660.5 L1060.5,667.8 L1062.5,675.2 L1064.5,682.8 L1066.5,690.5 L1068.5,698.3 L1070.5,706.3 L1072.5,714.3 L1074.5,722.3 L1076.5,730.4 L1078.5,738.5 L1080.5,746.7 L1082.5,754.8 L1084.5,763 L1086.5,771.1 L1088.5,779.1 L1090.5,787.2 L1092.5,795.2 L1094.5,803.1 L1096.5,811 L1098.5,818.7 L1100.5,826.5 L1102.5,834.1 L1104.5,841.7 L1106.5,849.1 L1108.5,856.5 L1110.5,863.8 L1112.5,871.1 L1114.5,878.3 L1116.5,885.4 L1118.5,892.4 L1120.5,899.4 L1122.5,906.4 L1124.5,913.3 L1126.5,920.2 L1128.5,927.5 L1130.5,933.1 L1132.5,937.5 L1134.5,941.3 L1136.5,944.7 L1138.5,947.8 L1140.5,950.7 L1142.5,953.6 L1144.5,956.3 L1146.5,958.8 L1148.5,960.8 L1150.5,962.3 L1152.5,963.6 L1154.5,964.7 L1156.5,965.7 L1158.5,966.6 L1160.5,967.4 L1162.5,968.1 L1164.5,968.6 L1166.5,969.1 L1168.5,969.5 L1170.5,969.9 L1172.5,970.3 L1174.5,970.6 L1176.5,970.8 L1178.5,971 L1180.5,971 L1182.5,971 L1184.5,970.9 L1186.5,970.8 L1188.5,970.7 L1190.5,970.5 L1192.5,970.4 L1194.5,970.2 L1196.5,970 L1198.5,969.8 L1200.5,969.6 L1202.5,969.4 L1204.5,969.2 L1206.5,968.9 L1208.5,968.7 L1210.5,968.5 L1212.5,968.2 L1214.5,967.9 L1216.5,967.6 L1218.5,967.3 L1220.5,966.9 L1222.5,966.6 L1224.5,966.3 L1226.5,965.9 L1228.5,965.5 L1230.5,965.2 L1232.5,964.9 L1234.5,964.5 L1236.5,964.2 L1238.5,963.9 L1240.5,963.6 L1242.5,963.4 L1244.5,963.2 L1246.5,963 L1248.5,962.8 L1250.5,962.6 L1252.5,962.4 L1254.5,962.2 L1256.5,962 L1258.5,961.8 L1260.5,961.6 L1262.5,961.4 L1264.5,961.2 L1266.5,961 L1268.5,960.8 L1270.5,960.7 L1272.5,960.5 L1274.5,960.3 L1276.5,960.2 L1278.5,960 L1280.5,959.9 L1282.5,959.8 L1284.5,959.6 L1286.5,959.5 L1288.5,959.4 L1290.5,959.3 L1292.5,959.2 L1294.5,959.2 L1296.5,959.1 L1298.5,959.1 L1300.5,959 L1302.5,959 L1304.5,959 L1306.5,959 L1308.5,959.1 L1310.5,959.2 L1312.5,959.3 L1314.5,959.4 L1316.5,959.6 L1318.5,959.8 L1320.5,960 L1322.5,960.2 L1324.5,960.5 L1326.5,960.7 L1328.5,961 L1330.5,961.2 L1332.5,961.5 L1334.5,961.8 L1336.5,962 L1338.5,962.3 L1340.5,962.6 L1342.5,962.8 L1344.5,963.1 L1346.5,963.3 L1348.5,963.6 L1350.5,963.9 L1352.5,964.2 L1354.5,964.5 L1356.5,964.9 L1358.5,965.2 L1360.5,965.5 L1362.5,965.9 L1364.5,966.2 L1366.5,966.6 L1368.5,966.9 L1370.5,967.2 L1372.5,967.6 L1374.5,967.9 L1376.5,968.1 L1378.5,968.4 L1380.5,968.6 L1382.5,968.9 L1384.5,969 L1386.5,969.2 L1388.5,969.4 L1390.5,969.6 L1392.5,969.8 L1394.5,970 L1396.5,970.1 L1398.5,970.3 L1400.5,970.5 L1402.5,970.6 L1404.5,970.7 L1406.5,970.8 L1408.5,970.9 L1410.5,971 L1412.5,971 L1414.5,971 L1416.5,971 L1418.5,971 L1420.5,971 L1422.5,970.9 L1424.5,970.9 L1426.5,970.9 L1428.5,970.8 L1430.5,970.8 L1432.5,970.7 L1434.5,970.7 L1436.5,970.6 L1438.5,970.6 L1440.5,970.5 L1442.5,970.5 L1444.5,970.4 L1446.5,970.4 L1448.5,970.3 L1450.5,970.3 L1452.5,970.2 L1454.5,970.2 L1456.5,970.1 L1458.5,970.1 L1460.5,970.1 L1462.5,970 L1464.5,970 L1466.5,970 L1468.5,969.9 L1470.5,969.9 L1472.5,969.9 L1474.5,969.9 L1476.5,969.8 L1478.5,969.8 L1480.5,969.8 L1482.5,969.8 L1484.5,969.7 L1486.5,969.7 L1488.5,969.7 L1490.5,969.7 L1492.5,969.6 L1494.5,969.6 L1496.5,969.6 L1498.5,969.6 L1500.5,969.6 L1502.5,969.5 L1504.5,969.5 L1506.5,969.5 L1508.5,969.5 L1510.5,969.4 L1512.5,969.4 L1514.5,969.4 L1516.5,969.4 L1518.5,969.4 L1520.5,969.3 L1522.5,969.3 L1524.5,969.3 L1526.5,969.3 L1528.5,969.3 L1530.5,969.2 L1532.5,969.2 L1534.5,969.2 L1536.5,969.2 L1538.5,969.2 L1540.5,969.2 L1542.5,969.2 L1544.5,969.1 L1546.5,969.1 L1548.5,969.1 L1550.5,969.1 L1552.5,969.1 L1554.5,969.1 L1556.5,969.1 L1558.5,969.1 L1560.5,969 L1562.5,969 L1564.5,969 L1566.5,969 L1568.5,969 L1570.5,969 L1572.5,969 L1574.5,969 L1576.5,969 L1578.5,969 L1580,969" fill="none" stroke="#00FF00" stroke-width="18" stroke-linejoin="round" stroke-linecap="round"/>
<path d="M296.5,956 L298.5,956.1 L300.5,956.2 L302.5,956.4 L304.5,956.5 L306.5,956.7 L308.5,956.8 L310.5,957 L312.5,957.2 L314.5,957.4 L316.5,957.6 L318.5,957.9 L320.5,958.1 L322.5,958.4 L324.5,958.6 L326.5,958.9 L328.5,959.2 L330.5,959.5 L332.5,959.7 L334.5,960 L336.5,960.3 L338.5,960.7 L340.5,961 L342.5,961.3 L344.5,961.6 L346.5,961.9 L348.5,962.3 L350.5,962.6 L352.5,963 L354.5,963.3 L356.5,963.8 L358.5,964.2 L360.5,964.7 L362.5,965.1 L364.5,965.6 L366.5,966.2 L368.5,966.7 L370.5,967.3 L372.5,967.8 L374.5,968.4 L376.5,969 L378.5,969.5 L380.5,970.1 L382.5,970.7 L384.5,971.2 L386.5,971.8 L388.5,972.3 L390.5,972.9 L392.5,973.4 L394.5,973.9 L396.5,974.5 L398.5,975.1 L400.5,975.8 L402.5,976.4 L404.5,976.9 L406.5,977.2 L408.5,977.4 L410.5,977.4 L412.5,977.4 L414.5,977.4 L416.5,977.4 L418.5,977.4 L420.5,977.4 L422.5,977.4 L424.5,977.4 L426.5,977.4 L428.5,977.4 L430.5,977.4 L432.5,977.4 L434.5,977.4 L436.5,977.4 L438.5,977.4 L440.5,977.4 L442.5,977.4 L444.5,977.4 L446.5,977.4 L448.5,977.4 L450.5,977.4 L452.5,977.4 L454.5,977.4 L456.5,977.4 L458.5,977.4 L460.5,977.4 L462.5,977.4 L464.5,977.4 L466.5,977.4 L468.5,977.4 L470.5,977.4 L472.5,977.4 L474.5,977.4 L476.5,977.4 L478.5,977.4 L480.5,977.4 L482.5,977.4 L484.5,977.4 L486.5,977.4 L488.5,977.4 L490.5,977.4 L492.5,977 L494.5,976.3 L496.5,975.1 L498.5,973.7 L500.5,972.1 L502.5,970.4 L504.5,968.6 L506.5,966.8 L508.5,965.2 L510.5,963.6 L512.5,962 L514.5,960.3 L516.5,958.5 L518.5,956.7 L520.5,954.8 L522.5,953 L524.5,951.3 L526.5,949.8 L528.5,948.4 L530.5,947.2 L532.5,946.2 L534.5,945.2 L536.5,944.4 L538.5,943.6 L540.5,942.9 L542.5,942.3 L544.5,941.7 L546.5,941.2 L548.5,940.7 L550.5,940.4 L552.5,940.2 L554.5,939.9 L556.5,939.7 L558.5,939.5 L560.5,939.3 L562.5,939.1 L564.5,938.9 L566.5,938.8 L568.5,938.6 L570.5,938.5 L572.5,938.3 L574.5,938.2 L576.5,938.1 L578.5,937.9 L580.5,937.8 L582.5,937.6 L584.5,937.5 L586.5,937.3 L588.5,937.1 L590.5,937 L592.5,936.7 L594.5,936.5 L596.5,936.3 L598.5,936 L600.5,935.7 L602.5,935.5 L604.5,935.2 L606.5,935 L608.5,934.7 L610.5,934.5 L612.5,934.3 L614.5,934.2 L616.5,934.1 L618.5,934 L620.5,934 L622.5,934.2 L624.5,934.5 L626.5,934.8 L628.5,935.1 L630.5,935.3 L632.5,935.5 L634.5,935.6 L636.5,935.8 L638.5,936 L640.5,936.2 L642.5,936.4 L644.5,936.6 L646.5,936.8 L648.5,937.1 L650.5,937.4 L652.5,937.7 L654.5,938.1 L656.5,938.5 L658.5,938.9 L660.5,939.4 L662.5,939.8 L664.5,940.3 L666.5,940.7 L668.5,941.1 L670.5,941.5 L672.5,942 L674.5,942.4 L676.5,942.8 L678.5,943.3 L680.5,943.7 L682.5,944.1 L684.5,944.5 L686.5,944.8 L688.5,945.1 L690.5,945.3 L692.5,945.6 L694.5,945.9 L696.5,946.2 L698.5,946.4 L700.5,946.6 L702.5,946.8 L704.5,946.9 L706.5,947 L708.5,947 L710.5,946.9 L712.5,946.6 L714.5,946.2 L716.5,945.7 L718.5,945 L720.5,944.2 L722.5,943.2 L724.5,942.1 L726.5,940.8 L728.5,939.4 L730.5,937.9 L732.5,936.2 L734.5,934.3 L736.5,932.4 L738.5,930.3 L740.5,927.9 L742.5,922.5 L744.5,917.4 L746.5,912.8 L748.5,908.4 L750.5,904.2 L752.5,900.1 L754.5,896 L756.5,892 L758.5,888 L760.5,884 L762.5,879.9 L764.5,875.7 L766.5,871.3 L768.5,866.9 L770.5,862.3 L772.5,857.5 L774.5,852.5 L776.5,847.4 L778.5,842.1 L780.5,836.5 L782.5,830.8 L784.5,824.8 L786.5,818.7 L788.5,812.4 L790.5,805.9 L792.5,799.2 L794.5,792.4 L796.5,785.4 L798.5,778.3 L800.5,771 L802.5,763.7 L804.5,756.3 L806.5,748.8 L808.5,741.2 L810.5,733.6 L812.5,726 L814.5,718.5 L816.5,710.9 L818.5,703.4 L820.5,696 L822.5,688.7 L824.5,681.6 L826.5,674.5 L828.5,667.7 L830.5,661 L832.5,654.5 L834.5,648.3 L836.5,642.3 L838.5,636.6 L840.5,631.2 L842.5,626.1 L844.5,621.3 L846.5,616.8 L848.5,612.7 L850.5,608.9 L852.5,605.6 L854.5,602.6 L856.5,600 L858.5,597.8 L860.5,595.9 L862.5,594.4 L864.5,593.3 L866.5,592.7 L868.5,592.3 L870.5,592.4 L872.5,592.8 L874.5,593.7 L876.5,594.9 L878.5,596.5 L880.5,598.6 L882.5,601 L884.5,603.8 L886.5,607 L888.5,610.6 L890.5,614.6 L892.5,619.4 L894.5,624.9 L896.5,630.9 L898.5,637.4 L900.5,644.3 L902.5,651.7 L904.5,659.5 L906.5,667.6 L908.5,676.1 L910.5,684.8 L912.5,693.8 L914.5,702.9 L916.5,712.2 L918.5,721.6 L920.5,731.1 L922.5,740.6 L924.5,750.1 L926.5,759.5 L928.5,768.8 L930.5,778 L932.5,787 L934.5,795.8 L936.5,804.4 L938.5,812.8 L940.5,820.9 L942.5,828.7 L944.5,836.3 L946.5,843.6 L948.5,850.7 L950.5,857.5 L952.5,864.2 L954.5,870.6 L956.5,877 L958.5,883.2 L960.5,889.5 L962.5,895.8 L964.5,902.2 L966.5,908.9 L968.5,915.9 L970.5,923.8 L972.5,930.1 L974.5,935.7 L976.5,941 L978.5,945.8 L980.5,950.2 L982.5,954.3 L984.5,957.9 L986.5,961.2 L988.5,964.1 L990.5,966.7 L992.5,969 L994.5,971 L996.5,972.8 L998.5,974.1 L1000.5,975.1 L1002.5,975.9 L1004.5,976.7 L1006.5,977.2 L1008.5,977.4 L1010.5,977.2 L1012.5,976.8 L1014.5,976.1 L1016.5,975.2 L1018.5,974.4 L1020.5,973.3 L1022.5,971.9 L1024.5,970.3 L1026.5,968.5 L1028.5,966.6 L1030.5,964.4 L1032.5,961.9 L1034.5,959.5 L1036.5,957.1 L1038.5,954.7 L1040.5,952.2 L1042.5,949.8 L1044.5,947.4 L1046.5,945 L1048.5,942.7 L1050.5,940.3 L1052.5,937.9 L1054.5,935.6 L1056.5,933.4 L1058.5,931.2 L1060.5,929.1 L1062.5,926.9 L1064.5,924.9 L1066.5,922.9 L1068.5,921 L1070.5,919.2 L1072.5,917.5 L1074.5,915.8 L1076.5,914.2 L1078.5,912.8 L1080.5,911.5 L1082.5,910.6 L1084.5,909.7 L1086.5,908.9 L1088.5,908.2 L1090.5,907.6 L1092.5,907.3 L1094.5,907.2 L1096.5,907.4 L1098.5,907.8 L1100.5,908.3 L1102.5,908.9 L1104.5,909.6 L1106.5,910.3 L1108.5,911.2 L1110.5,912.4 L1112.5,913.7 L1114.5,915 L1116.5,916.3 L1118.5,917.5 L1120.5,918.6 L1122.5,919.7 L1124.5,920.8 L1126.5,921.9 L1128.5,923 L1130.5,924 L1132.5,925.1 L1134.5,926.3 L1136.5,927.4 L1138.5,928.6 L1140.5,929.8 L1142.5,931.1 L1144.5,932.5 L1146.5,933.9 L1148.5,935.4 L1150.5,936.7 L1152.5,938 L1154.5,939.2 L1156.5,940.3 L1158.5,941.3 L1160.5,942.3 L1162.5,943.2 L1164.5,944 L1166.5,944.7 L1168.5,945.3 L1170.5,945.9 L1172.5,946.4 L1174.5,946.8 L1176.5,947 L1178.5,947.2 L1180.5,947.3 L1182.5,947.4 L1184.5,947.5 L1186.5,947.5 L1188.5,947.5 L1190.5,947.4 L1192.5,947.2 L1194.5,947.1 L1196.5,947 L1198.5,946.8 L1200.5,946.5 L1202.5,946.3 L1204.5,946.1 L1206.5,946 L1208.5,945.9 L1210.5,945.8 L1212.5,945.7 L1214.5,945.6 L1216.5,945.6 L1218.5,945.5 L1220.5,945.4 L1222.5,945.4 L1224.5,945.3 L1226.5,945.3 L1228.5,945.2 L1230.5,945.2 L1232.5,945.1 L1234.5,945.1 L1236.5,945.1 L1238.5,945 L1240.5,945 L1242.5,945 L1244.5,945 L1246.5,945 L1248.5,945 L1250.5,945.1 L1252.5,945.1 L1254.5,945.2 L1256.5,945.3 L1258.5,945.4 L1260.5,945.6 L1262.5,945.7 L1264.5,945.9 L1266.5,946.1 L1268.5,946.3 L1270.5,946.5 L1272.5,946.7 L1274.5,947 L1276.5,947.2 L1278.5,947.5 L1280.5,947.7 L1282.5,948 L1284.5,948.3 L1286.5,948.6 L1288.5,948.8 L1290.5,949.1 L1292.5,949.4 L1294.5,949.7 L1296.5,950 L1298.5,950.3 L1300.5,950.5 L1302.5,950.8 L1304.5,951.1 L1306.5,951.3 L1308.5,951.6 L1310.5,951.9 L1312.5,952.2 L1314.5,952.6 L1316.5,952.9 L1318.5,953.2 L1320.5,953.6 L1322.5,954 L1324.5,954.3 L1326.5,954.7 L1328.5,955.1 L1330.5,955.4 L1332.5,955.8 L1334.5,956.2 L1336.5,956.6 L1338.5,957 L1340.5,957.3 L1342.5,957.7 L1344.5,958.1 L1346.5,958.5 L1348.5,958.9 L1350.5,959.3 L1352.5,959.8 L1354.5,960.2 L1356.5,960.7 L1358.5,961.2 L1360.5,961.6 L1362.5,962.1 L1364.5,962.6 L1366.5,963 L1368.5,963.5 L1370.5,963.9 L1372.5,964.3 L1374.5,964.7 L1376.5,965 L1378.5,965.3 L1380.5,965.6 L1382.5,965.8 L1384.5,966 L1386.5,966.2 L1388.5,966.4 L1390.5,966.6 L1392.5,966.8 L1394.5,967 L1396.5,967.1 L1398.5,967.3 L1400.5,967.5 L1402.5,967.6 L1404.5,967.8 L1406.5,967.9 L1408.5,968.1 L1410.5,968.2 L1412.5,968.3 L1414.5,968.4 L1416.5,968.5 L1418.5,968.6 L1420.5,968.7 L1422.5,968.8 L1424.5,968.9 L1426.5,968.9 L1428.5,968.9 L1430.5,969 L1432.5,969 L1434.5,969 L1436.5,969 L1438.5,969 L1440.5,968.9 L1442.5,968.8 L1444.5,968.8 L1446.5,968.7 L1448.5,968.6 L1450.5,968.5 L1452.5,968.4 L1454.5,968.2 L1456.5,968.1 L1458.5,968 L1460.5,967.8 L1462.5,967.7 L1464.5,967.5 L1466.5,967.3 L1468.5,967.2 L1470.5,967 L1472.5,966.9 L1474.5,966.7 L1476.5,966.5 L1478.5,966.4 L1480.5,966.2 L1482.5,966.1 L1484.5,966 L1486.5,965.8 L1488.5,965.7 L1490.5,965.5 L1492.5,965.4 L1494.5,965.2 L1496.5,965.1 L1498.5,964.9 L1500.5,964.8 L1502.5,964.6 L1504.5,964.4 L1506.5,964.3 L1508.5,964.1 L1510.5,964 L1512.5,963.8 L1514.5,963.7 L1516.5,963.5 L1518.5,963.4 L1520.5,963.2 L1522.5,963.1 L1524.5,963 L1526.5,962.8 L1528.5,962.7 L1530.5,962.6 L1532.5,962.5 L1534.5,962.4 L1536.5,962.2 L1538.5,962.1 L1540.5,962 L1542.5,961.9 L1544.5,961.8 L1546.5,961.7 L1548.5,961.5 L1550.5,961.4 L1552.5,961.3 L1554.5,961.2 L1556.5,961.1 L1558.5,961 L1560.5,960.9 L1562.5,960.8 L1564.5,960.7 L1566.5,960.6 L1568.5,960.5 L1570.5,960.4 L1572.5,960.3 L1574.5,960.2 L1576.5,960.1 L1578.5,960.1 L1580,960" fill="none" stroke="#0000FF" stroke-width="18" stroke-linejoin="round" stroke-linecap="round"/>
<line x1="837" y1="323.5" x2="915.2" y2="490.8" stroke="#000" stroke-width="7" stroke-linecap="round"/><path d="M937.2,541.6 L873.6,478 L913.6,487.1 L929.2,452.6 Z" fill="#000" stroke="#000" stroke-width="6" stroke-linejoin="round"/>
<line x1="737.4" y1="439.5" x2="817.3" y2="551.2" stroke="#000" stroke-width="7" stroke-linecap="round"/><path d="M847.4,598.3 L774.3,546 L815.1,547.8 L824.2,512.2 Z" fill="#000" stroke="#000" stroke-width="6" stroke-linejoin="round"/>
<line x1="1363.6" y1="490" x2="1165.5" y2="639.7" stroke="#000" stroke-width="7" stroke-linecap="round"/><path d="M1123.4,670.2 L1170.7,596.3 L1168.8,637.3 L1207.8,644.4 Z" fill="#000" stroke="#000" stroke-width="6" stroke-linejoin="round"/>
<text id="y4" transform="translate(160.7,188.6) scale(1.0000,1.0250)" font-family="'Liberation Serif', serif" font-size="76" font-weight="normal" font-style="normal" fill="#404040" text-anchor="start">0.04</text>
<text id="y3" transform="translate(161.7,391.9) scale(1.0000,1.0250)" font-family="'Liberation Serif', serif" font-size="76" font-weight="normal" font-style="normal" fill="#404040" text-anchor="start">0.03</text>
<text id="y2" transform="translate(162.2,594.6) scale(1.0000,1.0250)" font-family="'Liberation Serif', serif" font-size="76" font-weight="normal" font-style="normal" fill="#404040" text-anchor="start">0.02</text>
<text id="y1" transform="translate(161.2,797.6) scale(1.0000,1.0250)" font-family="'Liberation Serif', serif" font-size="76" font-weight="normal" font-style="normal" fill="#404040" text-anchor="start">0.01</text>
<text id="y0" transform="translate(249.5,999.7) scale(1.0600,1.0250)" font-family="'Liberation Serif', serif" font-size="76" font-weight="normal" font-style="normal" fill="#404040" text-anchor="start">0</text>
<text id="x0" transform="translate(292.3,1081.1) scale(1.0600,1.0250)" font-family="'Liberation Serif', serif" font-size="76" font-weight="normal" font-style="normal" fill="#404040" text-anchor="start">0</text>
<text id="x2" transform="translate(670.6,1081.1) scale(1.0000,1.0250)" font-family="'Liberation Serif', serif" font-size="76" font-weight="normal" font-style="normal" fill="#404040" text-anchor="start">2000</text>
<text id="x4" transform="translate(1104,1081.1) scale(1.0000,1.0250)" font-family="'Liberation Serif', serif" font-size="76" font-weight="normal" font-style="normal" fill="#404040" text-anchor="start">4000</text>
<text id="x6" transform="translate(1529,1081.1) scale(1.0000,1.0250)" font-family="'Liberation Serif', serif" font-size="76" font-weight="normal" font-style="normal" fill="#404040" text-anchor="start">6000</text>
<text id="xl" transform="translate(709.6,1193) scale(1.0027,1.0000)" font-family="'Liberation Serif', serif" font-size="84" font-weight="normal" font-style="normal" fill="#404040" text-anchor="start" style="letter-spacing:2.4px">Frequency [Hz]</text>
<text id="yl" transform="translate(80.4,689.9) rotate(-90) scale(1.0405,1.0100)" font-family="'Liberation Serif', serif" font-size="84" font-weight="normal" font-style="normal" fill="#404040" text-anchor="start" style="letter-spacing:2.2px">Amplitude</text>
<text id="w3w" transform="translate(825.2,258.4) scale(1.0470,0.9050)" font-family="'Liberation Serif', serif" font-size="84" font-weight="normal" font-style="italic" fill="#000" text-anchor="start" stroke="#000" stroke-width="1.8" stroke-linejoin="round">w</text>
<text id="w3s" transform="translate(881.7,287.9) scale(0.9550,0.9800)" font-family="'Liberation Serif', serif" font-size="62" font-weight="bold" font-style="normal" fill="#000" text-anchor="start" stroke="#000" stroke-width="1.2" stroke-linejoin="round">3</text>
<text id="w5w" transform="translate(662.2,376.4) scale(1.0470,0.9050)" font-family="'Liberation Serif', serif" font-size="84" font-weight="normal" font-style="italic" fill="#000" text-anchor="start" stroke="#000" stroke-width="1.8" stroke-linejoin="round">w</text>
<text id="w5s" transform="translate(719.2,405.9) scale(0.9550,0.9800)" font-family="'Liberation Serif', serif" font-size="62" font-weight="bold" font-style="normal" fill="#000" text-anchor="start" stroke="#000" stroke-width="1.2" stroke-linejoin="round">5</text>
<text id="w4w" transform="translate(1413.2,426.4) scale(1.0470,0.9050)" font-family="'Liberation Serif', serif" font-size="84" font-weight="normal" font-style="italic" fill="#000" text-anchor="start" stroke="#000" stroke-width="1.8" stroke-linejoin="round">w</text>
<text id="w4s" transform="translate(1470.3,455.3) scale(0.9550,0.9800)" font-family="'Liberation Serif', serif" font-size="62" font-weight="bold" font-style="normal" fill="#000" text-anchor="start" stroke="#000" stroke-width="1.2" stroke-linejoin="round">4</text>
</svg></body></html>
